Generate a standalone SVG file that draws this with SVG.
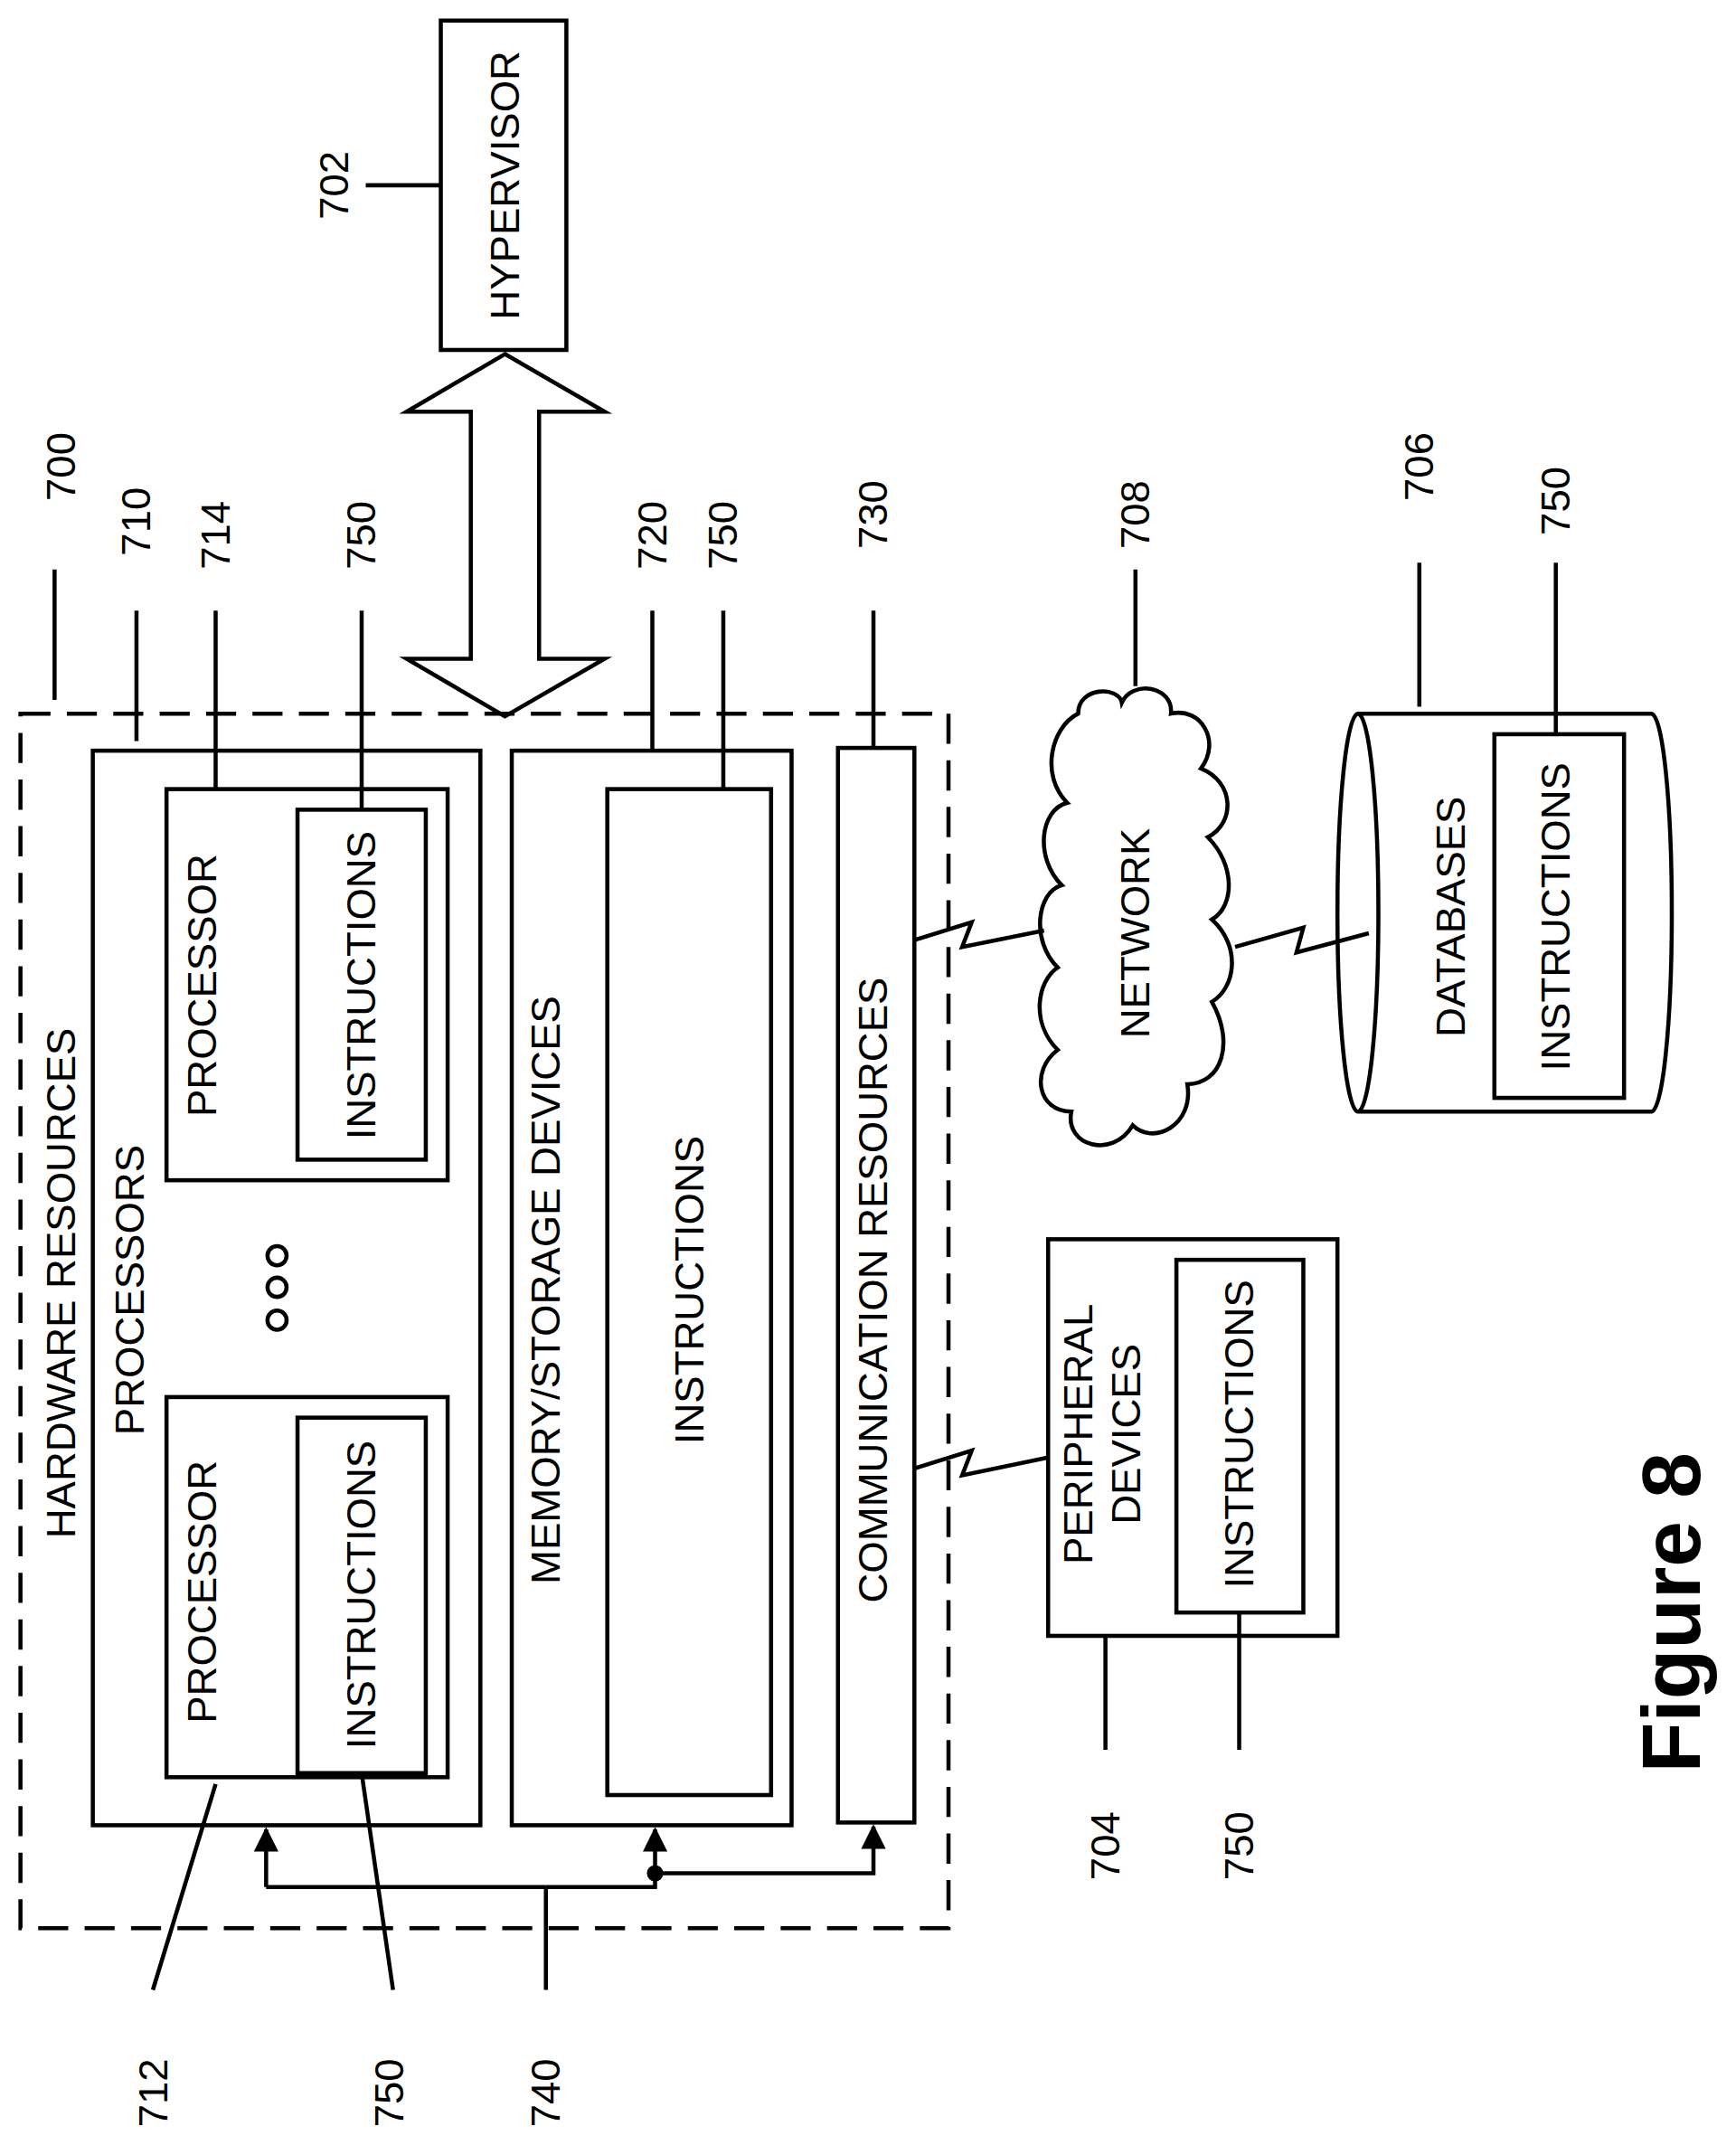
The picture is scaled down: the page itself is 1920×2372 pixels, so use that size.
<svg xmlns="http://www.w3.org/2000/svg" width="1920" height="2372" viewBox="0 0 1920 2372">
<style>
.b{fill:none;stroke:#000;stroke-width:3}
.t{font-family:"Liberation Sans",Arial,sans-serif;font-size:30px;text-anchor:middle;dominant-baseline:central}
</style>
<defs><marker id="a" viewBox="0 0 10 10" refX="9" refY="5" markerWidth="6" markerHeight="6" orient="auto"><path d="M0,0 L10,5 L0,10 z"/></marker></defs>
<rect width="1920" height="2372" fill="#fff"/>
<g transform="scale(1.5094,1.5176)">
<g id="hw"><rect class="b" x="15" y="520" width="680" height="885" stroke-dasharray="22,12"/>
<text class="t" transform="translate(45,935) rotate(-90)">HARDWARE RESOURCES</text></g>
<g id="procs"><rect class="b" x="68" y="547" width="284" height="783"/>
<text class="t" transform="translate(95,940) rotate(-90)">PROCESSORS</text>
<circle class="b" cx="203" cy="915" r="7"/><circle class="b" cx="203" cy="938" r="7"/><circle class="b" cx="203" cy="962" r="7"/></g>
<g id="p1"><rect class="b" x="122" y="575" width="206" height="285"/><rect class="b" x="218" y="590" width="94" height="255"/>
<text class="t" transform="translate(148,718) rotate(-90)">PROCESSOR</text><text class="t" transform="translate(265,718) rotate(-90)">INSTRUCTIONS</text></g>
<g id="p2"><rect class="b" x="122" y="1018" width="206" height="277"/><rect class="b" x="218" y="1033" width="94" height="259"/>
<text class="t" transform="translate(148,1160) rotate(-90)">PROCESSOR</text><text class="t" transform="translate(265,1162) rotate(-90)">INSTRUCTIONS</text></g>
<g id="mem"><rect class="b" x="375" y="547" width="205" height="783"/><rect class="b" x="445" y="575" width="120" height="733"/>
<text class="t" transform="translate(400,940) rotate(-90)">MEMORY/STORAGE DEVICES</text><text class="t" transform="translate(505,940) rotate(-90)">INSTRUCTIONS</text></g>
<g id="comm"><rect class="b" x="614" y="545" width="56" height="783"/><text class="t" transform="translate(640,940) rotate(-90)">COMMUNICATION RESOURCES</text></g>
<g id="hyp"><rect class="b" x="323" y="15" width="92" height="240"/><text class="t" transform="translate(370,135) rotate(-90)">HYPERVISOR</text></g>
<g id="net"><path class="b" d="M790,520 C790,500 820,500 822,512 C830,495 860,500 858,520 C880,515 895,540 880,560 C905,570 905,600 885,610 C905,630 905,660 888,670 C910,690 905,720 888,730 C905,760 895,790 870,790 C875,820 845,835 830,820 C815,845 780,835 785,810 C760,810 755,780 775,765 C755,745 760,715 775,705 C755,685 760,650 778,645 C758,625 762,590 782,585 C762,565 770,530 790,520 Z"/>
<text class="t" transform="translate(832,680) rotate(-90)">NETWORK</text></g>
<g id="db"><path class="b" d="M995,520 L1210,520 A15,145 0 0 1 1210,810 L995,810 A15,145 0 0 1 995,520 A15,145 0 0 1 995,810"/>
<rect class="b" x="1095" y="535" width="95" height="265"/>
<text class="t" transform="translate(1063,668) rotate(-90)">DATABASES</text><text class="t" transform="translate(1140,668) rotate(-90)">INSTRUCTIONS</text></g>
<g id="per"><rect class="b" x="768" y="903" width="212" height="289"/><rect class="b" x="862" y="918" width="93" height="257"/>
<text class="t" transform="translate(790,1045) rotate(-90)">PERIPHERAL</text><text class="t" transform="translate(825,1045) rotate(-90)">DEVICES</text>
<text class="t" transform="translate(908,1045) rotate(-90)">INSTRUCTIONS</text></g>
<g id="connectors">
<path class="b" d="M370,258 L443,300 L395,300 L395,480 L443,480 L370,522 L298,480 L345,480 L345,300 L298,300 Z"/>
<path class="b" d="M670,685 L712,672 L705,690 L765,678"/>
<path class="b" d="M905,690 L955,676 L950,694 L1003,680"/>
<path class="b" d="M670,1070 L712,1057 L705,1075 L768,1062"/>
<path class="b" d="M195,1375 L400,1375 M195,1375 L195,1333" marker-end="url(#a)"/>
<path class="b" d="M400,1375 L480,1375 L480,1365 L480,1333" marker-end="url(#a)"/>
<path class="b" d="M480,1365 L640,1365 L640,1331" marker-end="url(#a)"/>
<circle cx="480" cy="1365" r="6"/>
<path class="b" d="M40,415V510 M100,445V540 M158,445V575 M265,445V590 M478,445V547 M530,445V575 M640,445V545 M832,415V500 M1040,410V515 M1140,410V535 M268,135H323 M112,1450L158,1300 M288,1450L265,1292 M400,1450V1375 M810,1192V1275 M908,1175V1275"/>
</g>
<g id="labels">
<text class="t" transform="translate(45,340) rotate(-90)">700</text>
<text class="t" transform="translate(100,380) rotate(-90)">710</text>
<text class="t" transform="translate(158,390) rotate(-90)">714</text>
<text class="t" transform="translate(265,390) rotate(-90)">750</text>
<text class="t" transform="translate(478,390) rotate(-90)">720</text>
<text class="t" transform="translate(530,390) rotate(-90)">750</text>
<text class="t" transform="translate(640,375) rotate(-90)">730</text>
<text class="t" transform="translate(832,375) rotate(-90)">708</text>
<text class="t" transform="translate(1040,340) rotate(-90)">706</text>
<text class="t" transform="translate(1140,365) rotate(-90)">750</text>
<text class="t" transform="translate(245,135) rotate(-90)">702</text>
<text class="t" transform="translate(112,1525) rotate(-90)">712</text>
<text class="t" transform="translate(285,1525) rotate(-90)">750</text>
<text class="t" transform="translate(400,1525) rotate(-90)">740</text>
<text class="t" transform="translate(810,1345) rotate(-90)">704</text>
<text class="t" transform="translate(908,1345) rotate(-90)">750</text>
<text class="t" style="font-size:60px;font-weight:bold" transform="translate(1225,1175) rotate(-90)">Figure 8</text>
</g>
</g>
</svg>
